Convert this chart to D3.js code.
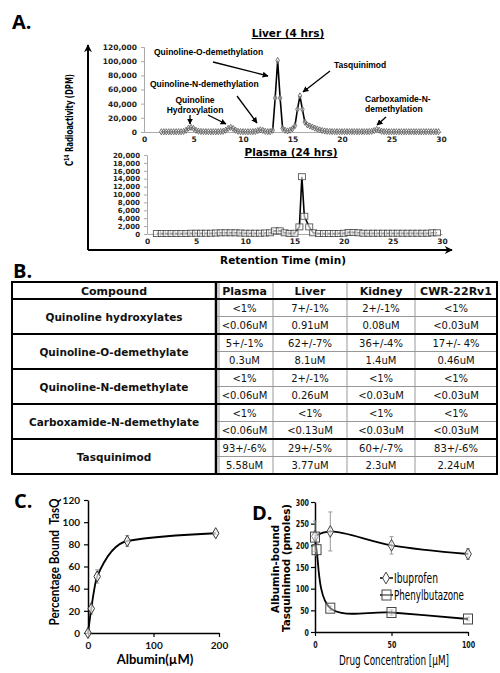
<!DOCTYPE html>
<html>
<head>
<meta charset="utf-8">
<script src="https://cdn.jsdelivr.net/npm/d3@7"></script>
<style>
  body { margin: 0; background: #fff; }
  svg { display: block; }
</style>
</head>
<body>
<svg width="500" height="673"></svg>
<script>
// ---- data: panel A (retention time in min, radioactivity in DPM) ----
const liverTrace = [
  [1.75,300],[2,300],[2.25,300],[2.5,300],[2.75,300],[3,300],[3.25,300],[3.5,400],[3.75,400],
  [4,800],[4.25,2500],[4.5,5500],[4.75,6500],[5,5000],[5.25,2500],[5.5,1200],[5.75,700],
  [6,500],[6.25,500],[6.5,400],[6.75,400],[7,400],[7.25,400],[7.5,500],[7.75,600],
  [8,1000],[8.25,2500],[8.5,5000],[8.75,6500],[9,5000],[9.25,2500],[9.5,1000],[9.75,600],
  [10,500],[10.25,400],[10.5,400],[10.75,400],[11,500],[11.25,800],[11.5,2000],[11.75,3000],
  [12,2200],[12.25,1000],[12.5,500],[12.75,500],[13,2500],[13.25,48000],[13.5,101000],[13.75,48000],
  [14,5000],[14.25,2500],[14.5,1500],[14.75,2500],[15,4500],[15.25,9000],[15.5,32000],[15.75,51000],
  [16,32000],[16.25,14000],[16.5,10000],[16.75,8500],[17,7000],[17.25,5500],[17.5,4200],[17.75,3000],
  [18,2000],[18.25,1400],[18.5,1000],[18.75,800],[19,600],[19.25,500],[19.5,500],[19.75,500],
  [20,500],[20.25,500],[20.5,500],[20.75,500],[21,500],[21.25,500],[21.5,500],[21.75,500],
  [22,500],[22.25,500],[22.5,500],[22.75,600],[23,900],[23.25,2000],[23.5,3500],[23.75,2500],
  [24,1000],[24.25,600],[24.5,500],[24.75,400],[25,400],[25.25,400],[25.5,400],[25.75,400],
  [26,400],[26.25,400],[26.5,400],[26.75,400],[27,400],[27.25,400],[27.5,400],[27.75,400],
  [28,400],[28.25,400],[28.5,400],[28.75,400],[29,400],[29.25,400],[29.5,400],[29.75,400]
];
const plasmaTrace = [
  [1,100],[1.5,100],[2,100],[2.5,100],[3,100],[3.5,100],[4,150],[4.5,200],[5,200],[5.5,200],
  [6,200],[6.5,200],[7,250],[7.5,300],[8,300],[8.5,300],[9,300],[9.5,250],[10,200],[10.5,200],
  [11,200],[11.5,200],[12,250],[12.5,300],[13,800],[13.5,800],[14,300],[14.5,150],[15,200],
  [15.5,1800],[15.75,14500],[16,4500],[16.5,1800],[16.9,300],[17.5,100],[18,100],[18.5,100],
  [19,100],[19.5,150],[20,200],[20.5,400],[21,400],[21.5,300],[22,200],[22.5,200],[23,200],
  [23.5,200],[24,200],[24.5,200],[25,200],[25.5,200],[26,200],[26.5,200],[27,200],[27.5,200],
  [28,200],[28.5,200],[29,300],[29.5,300]
];
const timeTicks = [0, 5, 10, 15, 20, 25, 30];
const liverTicks = [0, 20000, 40000, 60000, 80000, 100000, 120000];
const plasmaTicks = [0, 2000, 4000, 6000, 8000, 10000, 12000, 14000, 16000, 18000, 20000];

// ---- data: panel B table ----
const compounds = ['Quinoline hydroxylates', 'Quinoline-O-demethylate', 'Quinoline-N-demethylate',
                   'Carboxamide-N-demethylate', 'Tasquinimod'];
const tissues = ['Plasma', 'Liver', 'Kidney', 'CWR-22Rv1'];
const percentValues = [
  ['<1%', '7+/-1%', '2+/-1%', '<1%'],
  ['5+/-1%', '62+/-7%', '36+/-4%', '17+/- 4%'],
  ['<1%', '2+/-1%', '<1%', '<1%'],
  ['<1%', '<1%', '<1%', '<1%'],
  ['93+/-6%', '29+/-5%', '60+/-7%', '83+/-6%']
];
const concValues = [
  ['<0.06uM', '0.91uM', '0.08uM', '<0.03uM'],
  ['0.3uM', '8.1uM', '1.4uM', '0.46uM'],
  ['<0.06uM', '0.26uM', '<0.03uM', '<0.03uM'],
  ['<0.06uM', '<0.13uM', '<0.03uM', '<0.03uM'],
  ['5.58uM', '3.77uM', '2.3uM', '2.24uM']
];

// ---- data: panel C ----
const albumin = [0, 5, 14, 60, 195];
const boundPct = [0, 22, 51, 83, 90];
const boundErr = [0, 5, 6, 5, 1];

// ---- data: panel D ----
const ibuConc = [0, 10, 50, 100];
const ibuBound = [221, 232, 200, 180];
const ibuErr = [35, 45, 20, 12];
const phenConc = [0, 1, 10, 50, 100];
const phenBound = [219, 190, 55, 45, 30];
const phenErr = [6, 14, 5, 6, 4];

const svg = d3.select('svg');
const NARROW = 'Liberation Sans Narrow, DejaVu Sans Condensed, Liberation Sans, sans-serif';

const defs = svg.append('defs');
defs.append('marker')
    .attr('id', 'head')
    .attr('viewBox', '0 0 10 10')
    .attr('refX', 9).attr('refY', 5)
    .attr('markerWidth', 6).attr('markerHeight', 6)
    .attr('markerUnits', 'userSpaceOnUse')
    .attr('orient', 'auto')
  .append('path').attr('d', 'M0,0 L10,5 L0,10 z').attr('fill', '#000');
defs.append('marker')
    .attr('id', 'bighead')
    .attr('viewBox', '0 0 10 10')
    .attr('refX', 9).attr('refY', 5)
    .attr('markerWidth', 10).attr('markerHeight', 8)
    .attr('markerUnits', 'userSpaceOnUse')
    .attr('orient', 'auto')
  .append('path').attr('d', 'M0,0 L10,5 L0,10 L3,5 z').attr('fill', '#000');

const panelLetter = (x, y, t) => svg.append('text')
    .attr('x', x).attr('y', y)
    .attr('font-family', 'Open Sans, sans-serif')
    .attr('font-weight', 'bold')
    .attr('font-size', 20)
    .text(t);

// ================= Panel A =================
panelLetter(12, 29, 'A.');

const xLiver = d3.scaleLinear().domain([0, 30]).range([144, 441]);
const yLiver = d3.scaleLinear().domain([0, 120000]).range([132, 47]);
const xPlasma = d3.scaleLinear().domain([0, 30]).range([147, 442]);
const yPlasma = d3.scaleLinear().domain([0, 20000]).range([234, 155]);

const styleSmallAxis = g => {
  g.selectAll('.domain').attr('stroke', '#aaa');
  g.selectAll('.tick line').attr('stroke', '#aaa');
  g.selectAll('text')
    .attr('font-family', 'DejaVu Sans, sans-serif')
    .attr('font-weight', 'bold')
    .attr('font-size', 7.5)
    .attr('fill', '#222');
};

svg.append('g').attr('transform', 'translate(144,0)')
  .call(d3.axisLeft(yLiver).tickValues(liverTicks).tickFormat(d3.format(',')).tickSize(3).tickPadding(4))
  .call(styleSmallAxis);
svg.append('g').attr('transform', 'translate(0,132)')
  .call(d3.axisBottom(xLiver).tickValues(timeTicks).tickSize(0).tickPadding(5))
  .call(styleSmallAxis);

svg.append('g').attr('transform', 'translate(147,0)')
  .call(d3.axisLeft(yPlasma).tickValues(plasmaTicks).tickFormat(d3.format(',')).tickSize(3).tickPadding(4))
  .call(styleSmallAxis)
  .call(g => g.selectAll('text').attr('font-size', 7));
svg.append('g').attr('transform', 'translate(0,234)')
  .call(d3.axisBottom(xPlasma).tickValues(timeTicks).tickSize(0).tickPadding(5))
  .call(styleSmallAxis);

// liver trace
svg.append('path')
  .datum(liverTrace)
  .attr('fill', 'none')
  .attr('stroke', '#000')
  .attr('stroke-width', 1.6)
  .attr('d', d3.line().x(d => xLiver(d[0])).y(d => yLiver(d[1])));
svg.append('g').selectAll('path')
  .data(liverTrace)
  .join('path')
    .attr('transform', d => `translate(${xLiver(d[0])},${yLiver(d[1])})`)
    .attr('d', d3.symbol(d3.symbolDiamond, 11))
    .attr('fill', '#fff')
    .attr('fill-opacity', 0.5)
    .attr('stroke', '#555')
    .attr('stroke-width', 0.8);

// plasma trace
svg.append('path')
  .datum(plasmaTrace)
  .attr('fill', 'none')
  .attr('stroke', '#000')
  .attr('stroke-width', 1.6)
  .attr('d', d3.line().x(d => xPlasma(d[0])).y(d => yPlasma(d[1])));
svg.append('g').selectAll('rect')
  .data(plasmaTrace)
  .join('rect')
    .attr('x', d => xPlasma(d[0]) - 3.5)
    .attr('y', d => yPlasma(d[1]) - 3)
    .attr('width', 7)
    .attr('height', 6)
    .attr('fill', '#fff')
    .attr('fill-opacity', 0.6)
    .attr('stroke', '#444')
    .attr('stroke-width', 0.8);

// titles
const underlined = (x, y, t) => svg.append('text')
    .attr('x', x).attr('y', y)
    .attr('text-anchor', 'middle')
    .attr('font-family', 'DejaVu Sans, sans-serif')
    .attr('font-weight', 'bold')
    .attr('font-size', 10.5)
    .attr('text-decoration', 'underline')
    .text(t);
underlined(288, 37, 'Liver (4 hrs)');
underlined(291, 156, 'Plasma (24 hrs)');

// annotations
const note = (x, y, lines, anchor) => {
  const t = svg.append('text')
    .attr('font-family', 'Liberation Sans, Arial, sans-serif')
    .attr('font-weight', 'bold')
    .attr('font-size', 8.5)
    .attr('text-anchor', anchor || 'start');
  lines.forEach((l, i) => t.append('tspan').attr('x', x).attr('y', y + i * 10).text(l));
};
const arrow = (x1, y1, x2, y2) => svg.append('line')
    .attr('x1', x1).attr('y1', y1).attr('x2', x2).attr('y2', y2)
    .attr('stroke', '#000').attr('stroke-width', 1.3)
    .attr('marker-end', 'url(#head)');

note(154, 55, ['Quinoline-O-demethylation']);
arrow(213, 62, 268, 76);
note(150, 87, ['Quinoline-N-demethylation']);
arrow(237, 96, 257, 123);
note(195, 103, ['Quinoline', 'Hydroxylation'], 'middle');
arrow(190, 115, 190, 124);
arrow(208, 115, 226, 124);
note(334, 68, ['Tasquinimod']);
arrow(330, 71, 303, 92);
note(365, 102, ['Carboxamide-N-', 'demethylation']);
arrow(386, 117, 377, 125);

// big axes arrows
svg.append('path')
  .attr('d', 'M88,250 L88,45')
  .attr('stroke', '#000').attr('stroke-width', 2).attr('fill', 'none')
  .attr('marker-end', 'url(#bighead)');
svg.append('path')
  .attr('d', 'M88,250 L452,250')
  .attr('stroke', '#000').attr('stroke-width', 2).attr('fill', 'none')
  .attr('marker-end', 'url(#bighead)');

const yLab = svg.append('text')
  .attr('transform', 'translate(73,120) rotate(-90)')
  .attr('text-anchor', 'middle')
  .attr('font-family', NARROW)
  .attr('font-weight', 'bold')
  .attr('font-size', 10.5)
  .attr('textLength', 92)
  .attr('lengthAdjust', 'spacingAndGlyphs');
yLab.append('tspan').text('C');
yLab.append('tspan').attr('dy', -4).attr('font-size', 7).text('14');
yLab.append('tspan').attr('dy', 4).text(' Radioactivity (DPM)');

svg.append('text')
  .attr('x', 283).attr('y', 264)
  .attr('text-anchor', 'middle')
  .attr('font-family', 'DejaVu Sans, sans-serif')
  .attr('font-weight', 'bold')
  .attr('font-size', 10.5)
  .text('Retention Time (min)');

// ================= Panel B =================
panelLetter(13, 278, 'B.');

const colEdges = [12, 216, 273, 347, 415, 497];
const headerTop = 282, headerBottom = 299, tableBottom = 474;
const rowBand = d3.scaleBand().domain(compounds).range([headerBottom, tableBottom]);
const colMid = i => (colEdges[i] + colEdges[i + 1]) / 2;

const tbl = svg.append('g');
tbl.selectAll('line.col')
  .data(colEdges.slice(2, 5))
  .join('line')
    .attr('x1', d => d).attr('x2', d => d)
    .attr('y1', headerTop).attr('y2', tableBottom)
    .attr('stroke', '#999').attr('stroke-width', 1);
tbl.selectAll('line.sub')
  .data(compounds)
  .join('line')
    .attr('x1', 216).attr('x2', 497)
    .attr('y1', d => rowBand(d) + rowBand.bandwidth() / 2)
    .attr('y2', d => rowBand(d) + rowBand.bandwidth() / 2)
    .attr('stroke', '#999').attr('stroke-width', 1);
tbl.append('line')
  .attr('x1', 219).attr('x2', 219).attr('y1', headerTop).attr('y2', tableBottom)
  .attr('stroke', '#999').attr('stroke-width', 1);
tbl.selectAll('line.grp')
  .data(compounds)
  .join('line')
    .attr('x1', 12).attr('x2', 497)
    .attr('y1', d => rowBand(d)).attr('y2', d => rowBand(d))
    .attr('stroke', '#000').attr('stroke-width', 2);
tbl.append('line')
  .attr('x1', 216).attr('x2', 216).attr('y1', headerTop).attr('y2', tableBottom)
  .attr('stroke', '#000').attr('stroke-width', 2.5);
tbl.append('rect')
  .attr('x', 12).attr('y', headerTop)
  .attr('width', 485).attr('height', tableBottom - headerTop)
  .attr('fill', 'none').attr('stroke', '#000').attr('stroke-width', 2);

const tText = (x, y, t, bold, size) => tbl.append('text')
    .attr('x', x).attr('y', y)
    .attr('text-anchor', 'middle')
    .attr('font-family', 'DejaVu Sans, sans-serif')
    .attr('font-weight', bold ? 'bold' : 'normal')
    .attr('font-size', size)
    .attr('fill', '#111')
    .text(t);

tText(colMid(0), 295, 'Compound', true, 11);
tissues.forEach((t, i) => tText(colMid(i + 1), 295, t, true, 11));
compounds.forEach((c, r) => {
  const top = rowBand(c), h = rowBand.bandwidth();
  tText(colMid(0), top + h / 2 + 4, c, true, 10.5);
  tissues.forEach((t, i) => {
    tText(colMid(i + 1), top + h / 4 + 4, percentValues[r][i], false, 10);
    tText(colMid(i + 1), top + 3 * h / 4 + 4, concValues[r][i], false, 10);
  });
});

// ================= Panel C =================
panelLetter(14, 508, 'C.');

const xC = d3.scaleLinear().domain([0, 200]).range([88, 219]);
const yC = d3.scaleLinear().domain([0, 120]).range([633, 500]);

const styleBoldAxis = g => {
  g.selectAll('.domain').attr('stroke', '#000').attr('stroke-width', 1.5);
  g.selectAll('.tick line').attr('stroke', '#000').attr('stroke-width', 1.2);
  g.selectAll('text')
    .attr('font-family', 'Lato, Open Sans, sans-serif')
    .attr('font-weight', 'bold')
    .attr('font-size', 10)
    .attr('fill', '#111');
};

svg.append('g').attr('transform', 'translate(88,0)')
  .call(d3.axisLeft(yC).tickValues([0, 20, 40, 60, 80, 100, 120]).tickSize(4).tickPadding(4).tickSizeOuter(0))
  .call(styleBoldAxis);
svg.append('g').attr('transform', 'translate(0,633)')
  .call(d3.axisBottom(xC).tickValues([0, 100, 200]).tickSize(4).tickPadding(5).tickSizeOuter(0))
  .call(styleBoldAxis);

const cData = albumin.map((a, i) => ({ x: a, y: boundPct[i], e: boundErr[i] }));
svg.append('g').selectAll('path')
  .data(cData.filter(d => d.e > 0))
  .join('path')
    .attr('d', d => {
      const x = xC(d.x), y1 = yC(d.y - d.e), y2 = yC(d.y + d.e);
      return `M${x},${y1}V${y2}M${x - 2},${y1}H${x + 2}M${x - 2},${y2}H${x + 2}`;
    })
    .attr('stroke', '#999').attr('stroke-width', 1).attr('fill', 'none');
svg.append('path')
  .datum(cData)
  .attr('fill', 'none').attr('stroke', '#000').attr('stroke-width', 1.8)
  .attr('d', d3.line().x(d => xC(d.x)).y(d => yC(d.y)).curve(d3.curveMonotoneX));
svg.append('g').selectAll('path')
  .data(cData)
  .join('path')
    .attr('transform', d => `translate(${xC(d.x)},${yC(d.y)})`)
    .attr('d', d3.symbol(d3.symbolDiamond, 36))
    .attr('fill', '#fff').attr('fill-opacity', 0.7)
    .attr('stroke', '#333').attr('stroke-width', 1);

svg.append('text')
  .attr('transform', 'translate(59,562) rotate(-90)')
  .attr('text-anchor', 'middle')
  .attr('font-family', 'Lato, Open Sans, sans-serif')
  .attr('font-weight', 'bold')
  .attr('font-size', 12.5)
  .attr('textLength', 127)
  .attr('lengthAdjust', 'spacingAndGlyphs')
  .attr('xml:space', 'preserve')
  .text('Percentage Bound  TasQ');
svg.append('text')
  .attr('x', 155).attr('y', 664)
  .attr('text-anchor', 'middle')
  .attr('font-family', 'Lato, Open Sans, sans-serif')
  .attr('font-weight', 'bold')
  .attr('font-size', 13)
  .text('Albumin(\u00b5M)');

// ================= Panel D =================
panelLetter(252, 520, 'D.');

const xD = d3.scaleLinear().domain([0, 100]).range([315, 468]);
const yD = d3.scaleLinear().domain([0, 300]).range([632, 502]);

// squeeze the tick numbers so they stay clear of the two-line axis title
const narrowTicks = g => g.selectAll('text')
  .attr('font-family', NARROW)
  .attr('font-size', 9.5)
  .attr('textLength', d => String(d).length * 4.4)
  .attr('lengthAdjust', 'spacingAndGlyphs');

svg.append('g').attr('transform', 'translate(315,0)')
  .call(d3.axisLeft(yD).tickValues([0, 50, 100, 150, 200, 250, 300]).tickSize(4).tickPadding(2).tickSizeOuter(0))
  .call(styleBoldAxis)
  .call(narrowTicks);
svg.append('g').attr('transform', 'translate(0,632)')
  .call(d3.axisBottom(xD).tickValues([0, 50, 100]).tickSize(4).tickPadding(5).tickSizeOuter(0))
  .call(styleBoldAxis)
  .call(narrowTicks);

const ibuData = ibuConc.map((c, i) => ({ x: c, y: ibuBound[i], e: ibuErr[i] }));
const phenData = phenConc.map((c, i) => ({ x: c, y: phenBound[i], e: phenErr[i] }));

const errBars = data => svg.append('g').selectAll('path')
  .data(data)
  .join('path')
    .attr('d', d => {
      const x = xD(d.x), y1 = yD(d.y - d.e), y2 = yD(d.y + d.e);
      return `M${x},${y1}V${y2}M${x - 2},${y1}H${x + 2}M${x - 2},${y2}H${x + 2}`;
    })
    .attr('stroke', '#999').attr('stroke-width', 1).attr('fill', 'none');
errBars(ibuData);
errBars(phenData);

const dLine = d3.line().x(d => xD(d.x)).y(d => yD(d.y)).curve(d3.curveCatmullRom.alpha(0.5));
svg.append('path').datum(ibuData)
  .attr('fill', 'none').attr('stroke', '#000').attr('stroke-width', 1.8).attr('d', dLine);
svg.append('path').datum(phenData)
  .attr('fill', 'none').attr('stroke', '#000').attr('stroke-width', 1.8).attr('d', dLine);

const diamond = d3.symbol(d3.symbolDiamond, 40);
svg.append('g').selectAll('path')
  .data(ibuData)
  .join('path')
    .attr('transform', d => `translate(${xD(d.x)},${yD(d.y)})`)
    .attr('d', diamond)
    .attr('fill', '#fff').attr('fill-opacity', 0.6)
    .attr('stroke', '#444').attr('stroke-width', 1);
svg.append('g').selectAll('rect')
  .data(phenData)
  .join('rect')
    .attr('x', d => xD(d.x) - 4.5)
    .attr('y', d => yD(d.y) - 5)
    .attr('width', 9).attr('height', 10)
    .attr('fill', '#fff').attr('fill-opacity', 0.4)
    .attr('stroke', '#444').attr('stroke-width', 1);

// legend
const legendItems = [
  { name: 'Ibuprofen', y: 578, len: 44 },
  { name: 'Phenylbutazone', y: 595, len: 70 }
];
const leg = svg.append('g');
legendItems.forEach((d, i) => {
  leg.append('line')
    .attr('x1', 380).attr('x2', 393).attr('y1', d.y).attr('y2', d.y)
    .attr('stroke', '#000').attr('stroke-width', 1.5);
  if (i === 0) {
    leg.append('path').attr('transform', `translate(386,${d.y})`).attr('d', diamond)
      .attr('fill', '#fff').attr('stroke', '#444');
  } else {
    leg.append('rect').attr('x', 382).attr('y', d.y - 5).attr('width', 9).attr('height', 10)
      .attr('fill', '#fff').attr('fill-opacity', 0.4).attr('stroke', '#444');
  }
  leg.append('text')
    .attr('x', 394).attr('y', d.y + 5)
    .attr('font-family', NARROW)
    .attr('font-size', 14)
    .attr('textLength', d.len)
    .attr('lengthAdjust', 'spacingAndGlyphs')
    .text(d.name);
});

svg.append('text')
  .attr('transform', 'translate(279,569) rotate(-90)')
  .attr('text-anchor', 'middle')
  .attr('font-family', 'DejaVu Sans, sans-serif')
  .attr('font-weight', 'bold')
  .attr('font-size', 10)
  .attr('textLength', 88)
  .attr('lengthAdjust', 'spacingAndGlyphs')
  .text('Albumin-bound');
svg.append('text')
  .attr('transform', 'translate(290,568) rotate(-90)')
  .attr('text-anchor', 'middle')
  .attr('font-family', 'DejaVu Sans, sans-serif')
  .attr('font-weight', 'bold')
  .attr('font-size', 10)
  .attr('textLength', 128)
  .attr('lengthAdjust', 'spacingAndGlyphs')
  .text('Tasquinimod (pmoles)');

svg.append('text')
  .attr('x', 394).attr('y', 665)
  .attr('text-anchor', 'middle')
  .attr('font-family', NARROW)
  .attr('font-size', 14.5)
  .attr('textLength', 110)
  .attr('lengthAdjust', 'spacingAndGlyphs')
  .text('Drug Concentration [\u00b5M]');
</script>
</body>
</html>
